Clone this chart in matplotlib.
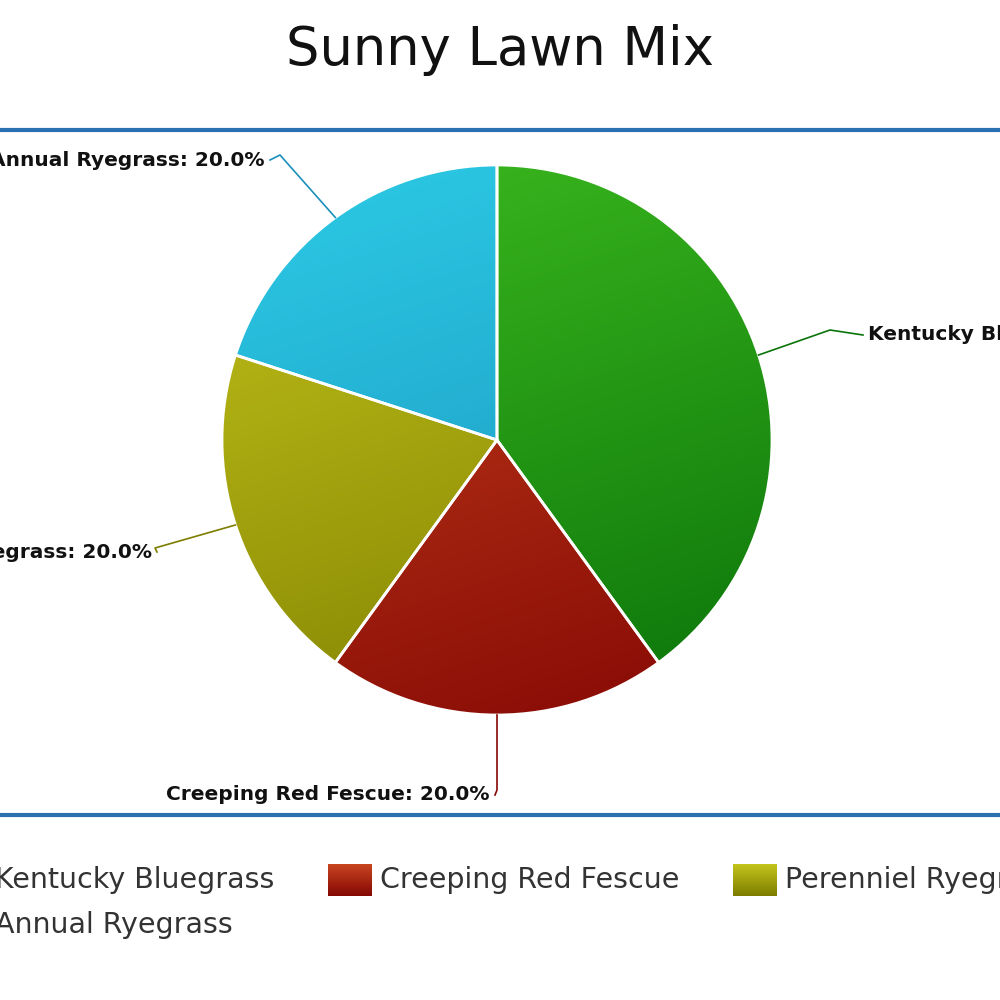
import numpy as np
import matplotlib
matplotlib.use("Agg")
import matplotlib.pyplot as plt
from matplotlib.colors import LinearSegmentedColormap

categories = ["Kentucky Bluegrass", "Creeping Red Fescue", "Perenniel Ryegrass", "Annual Ryegrass"]
values = [40.0, 20.0, 20.0, 20.0]
light = ["#3dbb1f", "#c8451f", "#c4c41c", "#2ccbe6"]
dark = ["#0a730a", "#850804", "#7d7d00", "#1a8fba"]

fig = plt.figure(figsize=(10, 10), dpi=100)
ax = fig.add_axes([0, 0, 1, 1])

cx, cy, R = 497, 560, 275
wedges, _ = ax.pie(values, center=(cx, cy), radius=R, startangle=90, counterclock=False,
                   colors=light, wedgeprops=dict(edgecolor="white", linewidth=2), frame=True)
ax.set_xlim(0, 1000); ax.set_ylim(0, 1000); ax.axis("off")

for w, c1, c2 in zip(wedges, light, dark):
    cmap = LinearSegmentedColormap.from_list("g", [c1, c2])
    yy, xx = np.mgrid[0:1:200j, 0:1:200j]
    grad = 0.75 * yy + 0.25 * xx
    im = ax.imshow(grad, cmap=cmap, extent=(cx - R, cx + R, cy - R, cy + R), origin="upper", zorder=1.5)
    im.set_clip_path(w)
    w.set_facecolor("none"); w.set_zorder(2)

lab_font = dict(fontsize=14.5, fontweight="bold", family="DejaVu Sans", color="#111111")
label_pos = [(868, 665, "left"), (490, 205, "right"), (152, 448, "right"), (265, 840, "right")]
elbow = [(830, 670), (497, 210), (155, 452), (280, 845)]
for w, cat, v, (tx, ty, ha), (ex, ey), col in zip(wedges, categories, values, label_pos, elbow, dark):
    ang = np.deg2rad((w.theta1 + w.theta2) / 2)
    px, py = cx + R * np.cos(ang), cy + R * np.sin(ang)
    endx = tx - 5 if ha == "left" else tx + 5
    ax.plot([px, ex, endx], [py, ey, ty], color=col, lw=1.2, zorder=3)
    ax.text(tx, ty, f"{cat}: {v:.1f}%", ha=ha, va="center", **lab_font)

ax.axhline(870, color="#2a6fb0", lw=3)
ax.axhline(185, color="#2a6fb0", lw=3)

fig.text(0.5, 0.95, "Sunny Lawn Mix", ha="center", va="center", fontsize=38, family="DejaVu Sans", color="#111111")

leg_pos = [(-35, 120), (350, 120), (755, 120), (-35, 75)]
for (lx, ly), cat, c1, c2 in zip(leg_pos, categories, light, dark):
    cmap = LinearSegmentedColormap.from_list("g", [c1, c2])
    ax.imshow(np.linspace(0, 1, 50).reshape(-1, 1), cmap=cmap, extent=(lx - 22, lx + 22, ly - 16, ly + 16),
              origin="upper", aspect="auto", zorder=3)
    ax.text(lx + 30, ly, cat, ha="left", va="center", fontsize=20.5, family="DejaVu Sans", color="#333333")
ax.set_xlim(0, 1000); ax.set_ylim(0, 1000)

fig.savefig("out.png", dpi=100)
